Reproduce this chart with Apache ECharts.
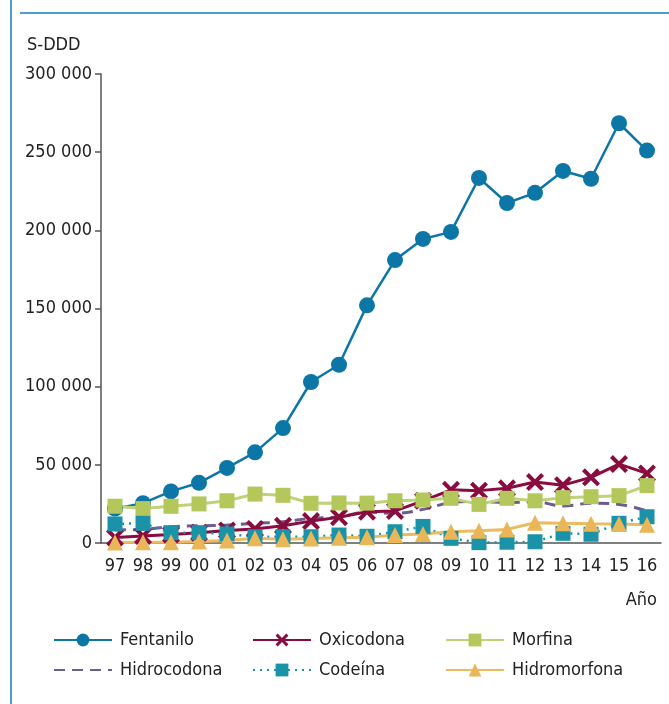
<!DOCTYPE html>
<html>
<head>
<meta charset="utf-8">
<script src="https://cdn.jsdelivr.net/npm/echarts@6/dist/echarts.min.js"></script>
<style>
  html, body { margin: 0; padding: 0; background: #fff; }
  #main { width: 669px; height: 704px; }
</style>
</head>
<body>
<div id="main"></div>
<script>
// años (eje X)
var years = ['97','98','99','00','01','02','03','04','05','06','07','08','09','10','11','12','13','14','15','16']

// S-DDD
var fentanilo    = [22000, 25500, 33000, 38500, 48000, 58000, 73500, 103000, 114000, 152000, 181000, 194500, 199000, 233500, 217500, 224000, 238000, 233000, 268500, 251000]
var oxicodona    = [3500, 4500, 5500, 6500, 8000, 9000, 11000, 14000, 16500, 20000, 20500, 27000, 34000, 33500, 35000, 39000, 37000, 42000, 50500, 44500]
var morfina      = [23500, 22000, 23500, 25000, 27000, 31300, 30500, 25400, 25600, 25500, 27000, 27500, 28600, 24700, 28600, 27000, 29000, 29600, 30300, 36700]
var hidrocodona  = [8300, 8800, 10400, 11000, 11500, 12600, 13600, 15800, 16800, 19800, 19000, 21500, 25800, 26600, 25800, 26400, 23700, 25400, 24700, 20500]
var codeina      = [12200, 12600, 6600, 6600, 5800, 4000, 4000, 4000, 5100, 4300, 7200, 10600, 3000, 200, 500, 800, 6200, 5600, 12600, 16800]
var hidromorfona = [300, 400, 500, 1000, 1600, 3000, 2400, 2800, 3400, 3600, 5100, 5800, 7200, 7900, 8700, 13000, 12600, 12300, 12200, 11600]

var yTicks = { min: 0, max: 300000, step: 50000 }

var FONT = "'DejaVu Sans Condensed', 'Liberation Sans Narrow', sans-serif"
var crossPath = 'path://M0,1.6 L1.6,0 L5,3.4 L8.4,0 L10,1.6 L6.6,5 L10,8.4 L8.4,10 L5,6.6 L1.6,10 L0,8.4 L3.4,5 Z'

function fmt(v) {
  return String(v).replace(/\B(?=(\d{3})+(?!\d))/g, ' ')
}

function legendAt(name, left, top, hideSymbol) {
  var l = {
    data: [name],
    left: left,
    top: top,
    itemWidth: 58,
    itemHeight: 16,
    itemGap: 0,
    padding: 0,
    textStyle: { fontFamily: FONT, fontSize: 18, color: '#222', padding: [0, 0, 0, 3] }
  }
  if (hideSymbol) l.itemStyle = { opacity: 0 }
  return l
}

var myChart = echarts.init(document.getElementById('main'))
myChart.setOption({
  animation: false,
  grid: { left: 101, right: 8, top: 74, bottom: 161 },
  legend: [
    legendAt('Fentanilo', 53, 631),
    legendAt('Oxicodona', 252, 631),
    legendAt('Morfina', 445, 631),
    legendAt('Hidrocodona', 53, 661, true),
    legendAt('Codeína', 252, 661),
    legendAt('Hidromorfona', 445, 661)
  ],
  graphic: [
    { type: 'line', shape: { x1: 11, y1: 0, x2: 11, y2: 704 }, style: { stroke: '#4b9fcf', lineWidth: 2 } },
    { type: 'line', shape: { x1: 20, y1: 13, x2: 669, y2: 13 }, style: { stroke: '#4b9fcf', lineWidth: 2 } },
    { type: 'text', left: 27, top: 36, style: { text: 'S-DDD', fontFamily: FONT, fontSize: 18, fill: '#222' } },
    { type: 'text', right: 12, top: 591, style: { text: 'Año', fontFamily: FONT, fontSize: 18, fill: '#222' } }
  ],
  xAxis: {
    type: 'category',
    data: years,
    boundaryGap: true,
    axisLine: { lineStyle: { color: '#555', width: 1.5 } },
    axisTick: { interval: 0, length: 6, lineStyle: { color: '#555', width: 1.5 } },
    axisLabel: { interval: 0, margin: 14, fontFamily: FONT, fontSize: 18, color: '#222' }
  },
  yAxis: {
    type: 'value',
    min: yTicks.min,
    max: yTicks.max,
    interval: yTicks.step,
    splitLine: { show: false },
    axisLine: { show: true, lineStyle: { color: '#555', width: 1.5 } },
    axisTick: { show: true, length: 6, lineStyle: { color: '#555', width: 1.5 } },
    axisLabel: { margin: 9, fontFamily: FONT, fontSize: 18, color: '#222', formatter: fmt }
  },
  series: [
    {
      name: 'Fentanilo', type: 'line', data: fentanilo,
      symbol: 'circle', symbolSize: 16,
      lineStyle: { color: '#0c77a7', width: 2.5 },
      itemStyle: { color: '#0c77a7' }
    },
    {
      name: 'Hidrocodona', type: 'line', data: hidrocodona,
      symbol: 'none', smooth: 0.4,
      lineStyle: { color: '#6d5c93', width: 3, type: [11, 7] },
      itemStyle: { color: '#6d5c93' }
    },
    {
      name: 'Oxicodona', type: 'line', data: oxicodona,
      symbol: crossPath, symbolSize: 18,
      lineStyle: { color: '#8a0b3d', width: 3 },
      itemStyle: { color: '#8a0b3d' }
    },
    {
      name: 'Morfina', type: 'line', data: morfina,
      symbol: 'rect', symbolSize: 15,
      lineStyle: { color: '#c0d278', width: 3 },
      itemStyle: { color: '#b3c75b' }
    },
    {
      name: 'Codeína', type: 'line', data: codeina,
      symbol: 'rect', symbolSize: 15,
      lineStyle: { color: '#1a93a9', width: 2.5, type: [2, 5] },
      itemStyle: { color: '#1a93a9' }
    },
    {
      name: 'Hidromorfona', type: 'line', data: hidromorfona,
      symbol: 'triangle', symbolSize: 16,
      lineStyle: { color: '#ecbb60', width: 3 },
      itemStyle: { color: '#e9b658' }
    }
  ]
})
</script>
</body>
</html>
